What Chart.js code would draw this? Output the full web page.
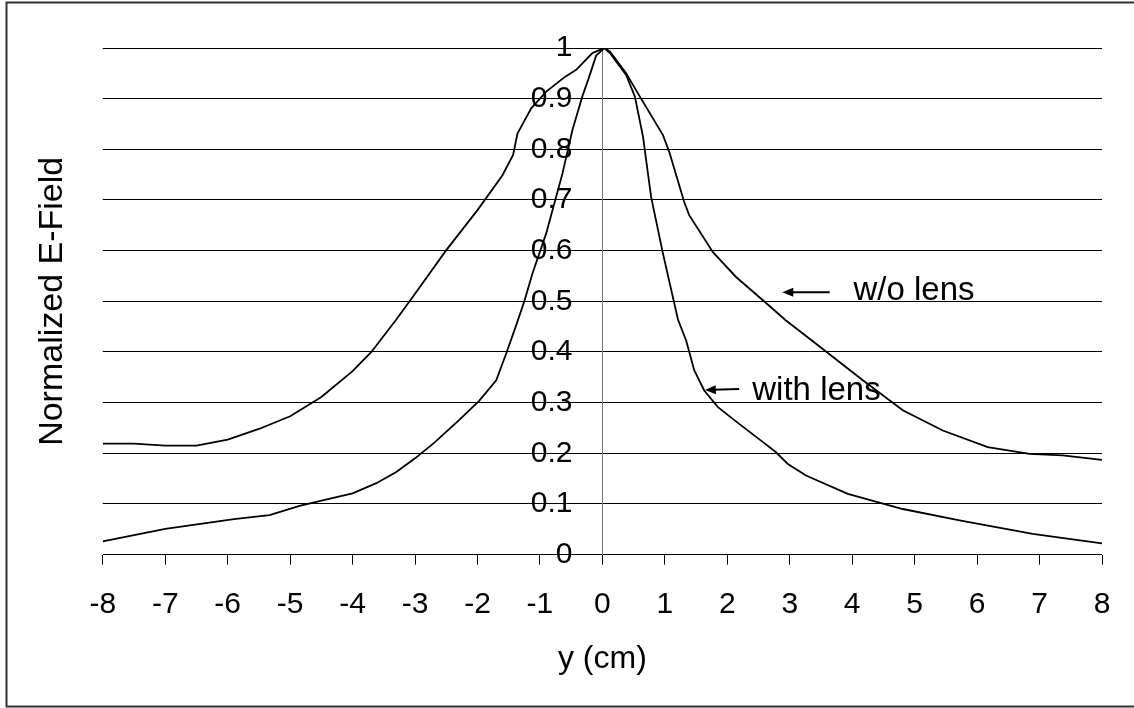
<!DOCTYPE html>
<html>
<head>
<meta charset="utf-8">
<script src="https://cdn.jsdelivr.net/npm/chart.js@4.4.1/dist/chart.umd.min.js"></script>
<style>
  body { margin: 0; background: #fff; }
  #wrap { position: relative; width: 1134px; height: 708px; }
</style>
</head>
<body>
<div id="wrap"><canvas id="chart" width="1134" height="708"></canvas></div>
<script>
// position y (cm) and normalized field
const woLensX = [-8, -7.5, -7, -6.5, -6, -5.5, -5, -4.5, -4, -3.7, -3.3, -3, -2.5, -2, -1.6, -1.43, -1.36, -1.14, -0.9, -0.6, -0.42, -0.16, 0.03, 0.12, 0.38, 0.6, 0.97, 1.07, 1.31, 1.39, 1.77, 2.14, 2.57, 2.93, 3.56, 4.17, 4.81, 5.45, 6.17, 6.84, 7.37, 8];
const woLensV = [0.219, 0.219, 0.215, 0.215, 0.227, 0.248, 0.273, 0.311, 0.362, 0.4, 0.464, 0.515, 0.601, 0.68, 0.749, 0.789, 0.831, 0.881, 0.914, 0.943, 0.957, 0.99, 1.0, 0.993, 0.95, 0.904, 0.828, 0.795, 0.696, 0.67, 0.597, 0.548, 0.502, 0.463, 0.403, 0.344, 0.285, 0.245, 0.212, 0.199, 0.196, 0.187];

const withLensX = [-8, -7, -5.9, -5.33, -4.85, -4.48, -4, -3.62, -3.3, -3, -2.7, -2.3, -1.97, -1.7, -1.54, -1.38, -1.25, -1.12, -0.9, -0.64, -0.48, -0.32, -0.22, -0.1, 0.03, 0.12, 0.38, 0.52, 0.65, 0.78, 0.97, 1.21, 1.34, 1.47, 1.63, 1.85, 2.19, 2.54, 2.78, 2.97, 3.26, 3.93, 4.81, 5.74, 6.89, 8];
const withLensV = [0.026, 0.051, 0.07, 0.078, 0.096, 0.107, 0.121, 0.141, 0.163, 0.19, 0.22, 0.265, 0.304, 0.344, 0.397, 0.453, 0.5, 0.555, 0.634, 0.752, 0.838, 0.905, 0.94, 0.985, 1.0, 0.99, 0.947, 0.904, 0.825, 0.706, 0.594, 0.464, 0.423, 0.364, 0.324, 0.291, 0.258, 0.225, 0.202, 0.179, 0.156, 0.12, 0.09, 0.067, 0.041, 0.022];

// labels with arrows, in data units: text start, baseline, arrow tail and tip
const notes = [
  { text: 'w/o lens', x: 4.02, y: 0.502, from: [3.64, 0.518], to: [2.88, 0.518] },
  { text: 'with lens', x: 2.4, y: 0.306, from: [2.19, 0.327], to: [1.64, 0.325] }
];

const toPoints = (xs, vs) => xs.map((x, i) => ({ x: x, y: vs[i] }));

const fontFam = '"Liberation Sans", Arial, sans-serif';
const fmt = v => Number(v.toFixed(1)).toString();

const framePlugin = {
  id: 'frame',
  afterDraw(chart) {
    const ctx = chart.ctx;
    ctx.save();
    ctx.strokeStyle = '#333';
    ctx.lineWidth = 2;
    ctx.strokeRect(6.5, 2.5, 1140, 704);
    ctx.restore();
  }
};

const notesPlugin = {
  id: 'notes',
  afterDatasetsDraw(chart) {
    const { ctx, scales: { x, y } } = chart;
    ctx.save();
    ctx.fillStyle = '#000';
    ctx.strokeStyle = '#000';
    ctx.font = '33px ' + fontFam;
    ctx.textAlign = 'left';
    ctx.textBaseline = 'alphabetic';
    notes.forEach(n => {
      ctx.fillText(n.text, x.getPixelForValue(n.x), y.getPixelForValue(n.y));
      const x1 = x.getPixelForValue(n.from[0]), y1 = y.getPixelForValue(n.from[1]);
      const x2 = x.getPixelForValue(n.to[0]), y2 = y.getPixelForValue(n.to[1]);
      const ang = Math.atan2(y2 - y1, x2 - x1);
      ctx.lineWidth = 2;
      ctx.beginPath();
      ctx.moveTo(x1, y1);
      ctx.lineTo(x2 - 8 * Math.cos(ang), y2 - 8 * Math.sin(ang));
      ctx.stroke();
      ctx.beginPath();
      ctx.moveTo(x2, y2);
      ctx.lineTo(x2 - 11 * Math.cos(ang) + 4.5 * Math.sin(ang), y2 - 11 * Math.sin(ang) - 4.5 * Math.cos(ang));
      ctx.lineTo(x2 - 11 * Math.cos(ang) - 4.5 * Math.sin(ang), y2 - 11 * Math.sin(ang) + 4.5 * Math.cos(ang));
      ctx.closePath();
      ctx.fill();
    });
    ctx.restore();
  }
};

new Chart(document.getElementById('chart'), {
  type: 'line',
  data: {
    datasets: [
      {
        label: 'w/o lens',
        data: toPoints(woLensX, woLensV),
        borderColor: '#000',
        borderWidth: 1.8,
        pointRadius: 0,
        tension: 0,
        fill: false
      },
      {
        label: 'with lens',
        data: toPoints(withLensX, withLensV),
        borderColor: '#000',
        borderWidth: 1.8,
        pointRadius: 0,
        tension: 0,
        fill: false
      }
    ]
  },
  options: {
    responsive: false,
    animation: false,
    layout: { padding: { left: 28, right: 32, top: 48, bottom: 26 } },
    plugins: {
      legend: { display: false },
      tooltip: { enabled: false }
    },
    scales: {
      x: {
        type: 'linear',
        min: -8,
        max: 8,
        ticks: { stepSize: 1, color: '#000', font: { family: fontFam, size: 30 }, padding: 22, maxRotation: 0 },
        grid: { drawOnChartArea: false, drawTicks: true, tickLength: 10, color: '#000' },
        border: { display: false },
        title: { display: true, text: 'y (cm)', color: '#000', font: { family: fontFam, size: 32 }, padding: { top: -5, bottom: 4 } }
      },
      y: {
        type: 'linear',
        position: { x: 0 },
        min: 0,
        max: 1,
        ticks: { stepSize: 0.1, display: false },
        grid: { color: '#000', lineWidth: 1, tickLength: 10 },
        border: { color: '#777', width: 1 }
      },
      // tick labels sit a little left of the centre axis
      yLab: {
        type: 'linear',
        position: { x: -0.48 },
        min: 0,
        max: 1,
        ticks: { stepSize: 0.1, color: '#000', font: { family: fontFam, size: 30 }, callback: fmt },
        grid: { display: false },
        border: { display: false }
      },
      yTitle: {
        type: 'linear',
        position: 'left',
        ticks: { display: false },
        grid: { display: false },
        border: { display: false },
        title: { display: true, text: 'Normalized E-Field', color: '#000', font: { family: fontFam, size: 34 }, padding: { top: 4, bottom: 22 } }
      }
    }
  },
  plugins: [framePlugin, notesPlugin]
});
</script>
</body>
</html>
